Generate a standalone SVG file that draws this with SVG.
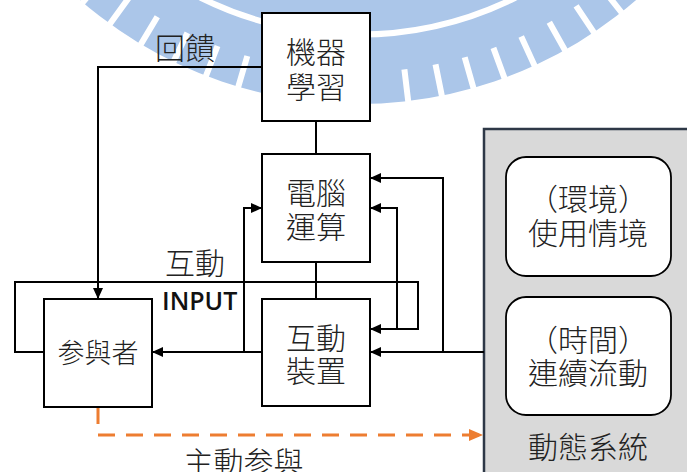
<svg xmlns="http://www.w3.org/2000/svg" width="687" height="472" viewBox="0 0 687 472">
<style>
.box{fill:#fff;stroke:#000;stroke-width:2}
.cj{font-family:"Noto Sans CJK TC","Noto Sans CJK SC",sans-serif;font-size:30px;font-weight:300;fill:#222;text-anchor:middle}
.ln{fill:none;stroke:#000;stroke-width:2}
.wm{fill:#abc6e9}
.wg{fill:none;stroke:#fff;stroke-width:6}
</style>
<defs>
<marker id="ah" markerUnits="userSpaceOnUse" markerWidth="11" markerHeight="10" refX="11" refY="5" orient="auto">
<path d="M0,0 L11,5 L0,10 z" fill="#000"/>
</marker>
<marker id="ao" markerUnits="userSpaceOnUse" markerWidth="14" markerHeight="12" refX="14" refY="6" orient="auto">
<path d="M0,0 L14,6 L0,12 z" fill="#ed7d31"/>
</marker>
</defs>
<rect width="687" height="472" fill="#fff"/>
<g id="watermark">
<path class="wm" d="M33.2,-47.5 A424,424 0 0 0 682.8,-47.5 L587.8,-127.2 A300,300 0 0 1 128.2,-127.2 Z"/>
<path class="wg" stroke-width="5" d="M86.4,-92.1 A354.5,354.5 0 0 0 629.6,-92.1"/>
<path class="wg" d="M103.4,-21.9L78.8,7 M128.7,-2L106.4,28.8 M157.3,16.7L137.8,49.4 M187.4,32.9L170.9,67.1 M217.5,46L203.9,81.4 M247.3,56L236.6,92.5 M277.8,63.7L270.1,100.9 M404.4,69.3L408.9,107 M435.5,64.3L443,101.5 M464.7,57.2L475.1,93.7 M493.4,47.9L506.5,83.6 M521.2,36.4L537,71 M549.3,22.2L567.8,55.3 M576.1,5.8L597.2,37.3 M601.5,-12.8L625.1,17"/>
</g>
<g id="dynamic-system">
<rect x="484" y="129" width="220" height="360" fill="#d9d9d9" stroke="#2e3847" stroke-width="2.5"/>
<text class="cj" x="588" y="457.5">動態系統</text>
</g>
<g id="environment">
<rect x="506" y="157" width="165" height="119" rx="20" fill="#fff" stroke="#000" stroke-width="1.8"/>
<text class="cj" x="588" y="210">（環境）</text>
<text class="cj" x="588" y="243.5">使用情境</text>
</g>
<g id="time">
<rect x="506" y="297" width="165" height="118" rx="20" fill="#fff" stroke="#000" stroke-width="1.8"/>
<text class="cj" x="588" y="350.5">（時間）</text>
<text class="cj" x="588" y="383.5">連續流動</text>
</g>
<g id="connectors">
<path class="ln" d="M316,121 V154"/>
<path class="ln" d="M316,262 V299"/>
<path class="ln" d="M262,67 H98 V299" marker-end="url(#ah)"/>
<path class="ln" d="M44,352 H15 V282 H418 V329 H370" marker-end="url(#ah)"/>
<path class="ln" d="M397,329 V208 H370" marker-end="url(#ah)"/>
<path class="ln" d="M484,352 H370" marker-end="url(#ah)"/>
<path class="ln" d="M443,352 V178 H370" marker-end="url(#ah)"/>
<path class="ln" d="M262,352 H152" marker-end="url(#ah)"/>
<path class="ln" d="M244,352 V208 H262" marker-end="url(#ah)"/>
<path d="M98,407 V435 H483" fill="none" stroke="#ed7d31" stroke-width="3" stroke-dasharray="17 11" marker-end="url(#ao)"/>
</g>
<g id="machine-learning">
<rect class="box" x="262" y="13" width="108" height="108"/>
<text class="cj" x="316" y="63">機器</text>
<text class="cj" x="316" y="98">學習</text>
</g>
<g id="computer">
<rect class="box" x="262" y="154" width="108" height="108"/>
<text class="cj" x="316" y="203.5">電腦</text>
<text class="cj" x="316" y="237.5">運算</text>
</g>
<g id="device">
<rect class="box" x="262" y="299" width="108" height="107"/>
<text class="cj" x="316" y="349">互動</text>
<text class="cj" x="316" y="381.5">裝置</text>
</g>
<g id="participant">
<rect class="box" x="44" y="299" width="108" height="108"/>
<text class="cj" x="98" y="363" style="font-size:27px">参與者</text>
</g>
<g id="labels">
<text class="cj" x="185" y="58.5">回饋</text>
<text class="cj" x="195" y="273.5">互動</text>
<text x="162" y="310" style="font-family:'Open Sans','Liberation Sans',sans-serif;font-size:25px;font-weight:600;fill:#111">INPUT</text>
<text class="cj" x="243.5" y="473">主動参與</text>
</g>
</svg>
